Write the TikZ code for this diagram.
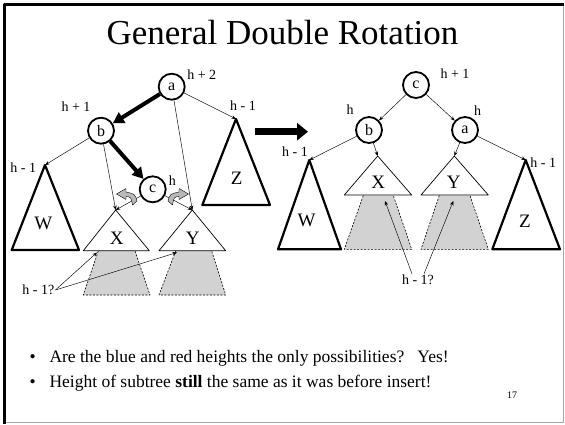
\documentclass[tikz,border=0pt]{standalone}
\usepackage{fontspec}
\setmainfont{Liberation Serif}
\usetikzlibrary{arrows.meta}

\begin{document}
\begin{tikzpicture}[x=1pt, y=-1pt, line join=round,
  knot/.style={circle, draw, line width=1.8pt, minimum size=26pt, inner sep=0pt, font=\fontsize{16}{16}\selectfont},
  lab/.style={inner sep=1pt, font=\fontsize{14}{14}\selectfont},
  big/.style={font=\fontsize{19}{19}\selectfont},
  link/.style={-{Stealth[length=4.5pt,width=3.5pt]}, line width=0.45pt},
  heavy/.style={-{Triangle[length=11pt,width=12pt]}, line width=4pt},
  fat/.style={line width=2.2pt},
  slim/.style={line width=0.7pt},
  hole/.style={draw, dashed, dash pattern=on 2pt off 1.5pt, fill=gray!35, line width=0.6pt},
  curl/.style={draw, fill=gray!55, line width=0.4pt}]
  \useasboundingbox (0,0) rectangle (565,424);
  % slide frame
  \draw[gray!70, line width=1pt] (563,4.5) -- (563,422.5) -- (4.5,422.5);
  \draw[line width=2.5pt] (4.5,424) -- (4.5,4.5) -- (564,4.5);
  \node[anchor=base, font=\fontsize{35}{35}\selectfont] (title) at (282.5,44) {General Double Rotation};

  % left tree, before
  \coordinate (W1) at (45,165);
  \coordinate (X1) at (115.7,210);
  \coordinate (Y1) at (192.3,210);
  \coordinate (Z1) at (236,119);
  \draw[hole] (98.3,251) -- (83.3,295) -- (150,295) -- (135,251);
  \draw[hole] (175.7,251) -- (159,295) -- (225.7,295) -- (211.7,251);
  \draw[fat] (W1) -- (11.7,250) -- (79,250) -- cycle;
  \draw[fat] (Z1) -- (202.3,205) -- (270,205) -- cycle;
  \draw[slim] (X1) -- (83.3,250.7) -- (149.3,250.7) -- cycle;
  \draw[slim] (Y1) -- (159,250.7) -- (225.7,250.7) -- cycle;
  \node[big] (w1) at (43.3,223.3) {W};
  \node[big] (x1) at (116.7,238.3) {X};
  \node[big] (y1) at (192.7,238) {Y};
  \node[big] (z1) at (236.7,178.3) {Z};

  \node[knot] (a) at (171.7,86.7) {a};
  \node[knot] (b) at (101,130.7) {b};
  \node[knot] (c) at (152.7,189.3) {c};
  \node[lab] (ha) at (201.7,75) {h + 2};
  \node[lab] (hb) at (76,106.7) {h + 1};
  \node[lab] (hc) at (172.3,180.7) {h};
  \node[lab] (hw) at (23.3,168) {h - 1};
  \node[lab] (hz) at (243,106) {h - 1};

  \draw[heavy] (a) -- (b);
  \draw[heavy] (b) -- (c);
  \draw[link] (a) -- (Z1);
  \draw[link] (a) -- (Y1);
  \draw[link] (b) -- (W1);
  \draw[link] (b) -- (X1);
  \draw[link] (c) -- (X1);
  \draw[link] (c) -- (Y1);

  % gray turn arrows round c
  \draw[curl] (137,201) .. controls (135,194) .. (126,192) -- (126,188.5) -- (116.5,194)
    -- (126,199.5) -- (126,196.5) .. controls (131,197) .. (132.5,205) -- cycle;
  \draw[curl] (168,201) .. controls (170,194) .. (179,192) -- (179,188.5) -- (188.5,194)
    -- (179,199.5) -- (179,196.5) .. controls (174,197) .. (172.5,205) -- cycle;

  \coordinate (F1) at (97,252.5);
  \coordinate (F2) at (177,252.5);
  \node[lab] (q1) at (38.3,290) {h - 1?};
  \draw[link] (q1.east) -- (F1);
  \draw[link] (q1.east) -- (F2);

  % big arrow
  \coordinate (go) at (255,131.7);
  \coordinate (gone) at (308,131.7);
  \draw[line width=6.8pt, -{Triangle[length=11pt,width=17pt]}] (go) -- (gone);

  % right tree, after
  \coordinate (W2) at (309.3,160);
  \coordinate (X2) at (377.7,156);
  \coordinate (Y2) at (454.3,156);
  \coordinate (Z2) at (525.7,160);
  \draw[hole] (363.3,195.5) -- (344.3,249.3) -- (411.7,249.3) -- (393.3,195.5);
  \draw[hole] (439.3,195.5) -- (421,249.3) -- (488.3,249.3) -- (470,195.5);
  \draw[fat] (W2) -- (278,249.3) -- (341,249.3) -- cycle;
  \draw[fat] (Z2) -- (492.3,249.3) -- (560,249.3) -- cycle;
  \draw[slim] (X2) -- (344.3,195) -- (411.7,195) -- cycle;
  \draw[slim] (Y2) -- (421,195) -- (488.3,195) -- cycle;
  \node[big] (w2) at (306.7,220) {W};
  \node[big] (x2) at (378.3,182.3) {X};
  \node[big] (y2) at (453.7,182.3) {Y};
  \node[big] (z2) at (525,221.7) {Z};

  \node[knot] (c2) at (416,85) {c};
  \node[knot] (b2) at (369,130) {b};
  \node[knot] (a2) at (465,130) {a};
  \node[lab] (hc2) at (455,74) {h + 1};
  \node[lab] (hb2) at (350,110) {h};
  \node[lab] (ha2) at (477.7,110.7) {h};
  \node[lab] (hw2) at (295,151.7) {h - 1};
  \node[lab] (hz2) at (543.3,162.7) {h - 1};

  \draw[link] (c2) -- (b2);
  \draw[link] (c2) -- (a2);
  \draw[link] (b2) -- (W2);
  \draw[link] (b2) -- (X2);
  \draw[link] (a2) -- (Y2);
  \draw[link] (a2) -- (Z2);

  \coordinate (F3) at (385,201);
  \coordinate (F4) at (453.3,201);
  \node[lab] (q2) at (418,280) {h - 1?};
  \draw[link] (q2.north) ++(-6,0) coordinate (q2l) (q2l) -- (F3);
  \draw[link] (q2.north) ++(6,0) coordinate (q2r) (q2r) -- (F4);

  % bullets
  \node[anchor=base, font=\fontsize{17.5}{17.5}\selectfont] (d1) at (32.7,362.7) {\textbullet};
  \node[anchor=base west, inner sep=0pt, font=\fontsize{17.5}{17.5}\selectfont] (t1) at (49.3,362.7)
    {Are the blue and red heights the only possibilities?\ \ \ Yes!};
  \node[anchor=base, font=\fontsize{17.5}{17.5}\selectfont] (d2) at (32.7,387.7) {\textbullet};
  \node[anchor=base west, inner sep=0pt, font=\fontsize{17.5}{17.5}\selectfont] (t2) at (49.3,387.7)
    {Height of subtree \textbf{still} the same as it was before insert!};
  \node[font=\fontsize{10}{10}\selectfont] (pg) at (512,395) {17};
\end{tikzpicture}
\end{document}
